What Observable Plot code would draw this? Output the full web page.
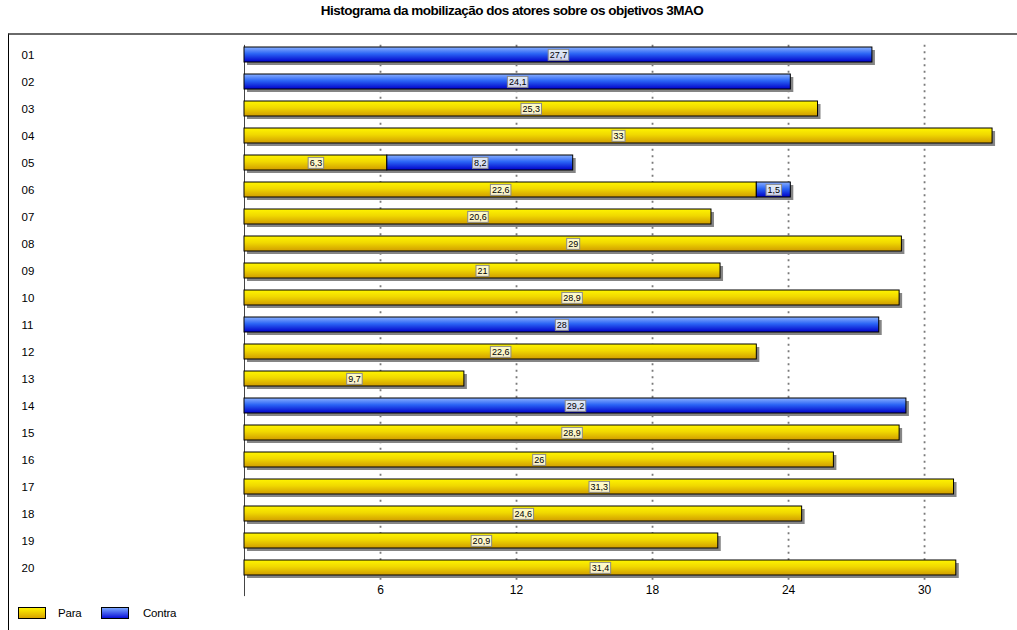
<!DOCTYPE html>
<html><head><meta charset="utf-8">
<script src="https://cdn.jsdelivr.net/npm/d3@7"></script>
<script src="https://cdn.jsdelivr.net/npm/@observablehq/plot@0.6"></script>
<style>
body{margin:0;background:#fff;width:1017px;height:630px;position:relative;overflow:hidden;font-family:"Liberation Sans",Arial,sans-serif;color:#000;}
#title{position:absolute;left:0;width:1024px;top:3px;text-align:center;font:bold 13.5px "Liberation Sans",Arial,sans-serif;letter-spacing:-0.5px;}
#frame{position:absolute;left:8px;top:33px;width:1009px;height:597px;border-top:2px solid #6a6a6a;border-left:1px solid #000;box-sizing:border-box;}
#chart{position:absolute;left:0;top:34px;}
.sw{position:absolute;top:607px;width:28px;height:12px;border:1px solid #000;box-sizing:border-box;}
.sw.para{left:18px;background:linear-gradient(#fff200,#d9a400);}
.sw.contra{left:101px;background:linear-gradient(#7aa6ff,#0a10d8);}
.lt{position:absolute;top:606px;line-height:14px;font-family:"Liberation Sans",Arial,sans-serif;font-size:11.5px;letter-spacing:-0.2px;}
</style>
</head><body>
<div id="title">Histograma da mobilização dos atores sobre os objetivos 3MAO</div>
<div id="frame"></div>
<div id="chart"></div>
<span class="sw para"></span><span class="lt" style="left:58px">Para</span>
<span class="sw contra"></span><span class="lt" style="left:143px">Contra</span>
<script>
const objetivos = ["01","02","03","04","05","06","07","08","09","10","11","12","13","14","15","16","17","18","19","20"];
const para   = [0,0,25.3,33,6.3,22.6,20.6,29,21,28.9,0,22.6,9.7,0,28.9,26,31.3,24.6,20.9,31.4];
const contra = [27.7,24.1,0,0,8.2,1.5,0,0,0,0,28,0,0,29.2,0,0,0,0,0,0];
const xTicks = [6,12,18,24,30];

const segs = [];
objetivos.forEach((o,i) => {
  if (para[i] > 0) segs.push({obj:o, serie:"Para", x1:0, x2:para[i], v:para[i]});
  if (contra[i] > 0) segs.push({obj:o, serie:"Contra", x1:para[i], x2:para[i]+contra[i], v:contra[i]});
});
const totais = objetivos.map((o,i) => ({obj:o, total: para[i]+contra[i]}));
const fmt = v => String(v).replace(".", ",");
const font = '"Liberation Sans",Arial,sans-serif';

const plot = Plot.plot({
  width: 1017, height: 566,
  marginLeft: 244, marginRight: 0, marginTop: 4.87, marginBottom: 15.9,
  x: {domain:[0,34.1], ticks: xTicks, tickSize: 0, tickPadding: 1, tickFormat: d => String(d), label: null},
  y: {domain: objetivos, padding: 0, axis: null},
  style: {fontFamily: font, fontSize: "12px", background: "transparent", color: "#000"},
  marks: [
    Plot.ruleX(xTicks, {x: d => d, stroke: "#7a7a7a", strokeWidth: 1.8, strokeDasharray: "2,4.5", insetTop: 6, insetBottom: 4}),
    Plot.ruleX([0], {stroke: "#444", strokeWidth: 1, insetTop: 6, insetBottom: -12}),
    Plot.barX(totais, {y: "obj", x1: 0, x2: "total", fill: "#858585", dx: 3, dy: 3, insetTop: 6, insetBottom: 6}),
    Plot.barX(segs.filter(d => d.serie === "Para"), {y: "obj", x1: "x1", x2: "x2", fill: "url(#gradPara)", stroke: "#000", strokeWidth: 1, insetTop: 6, insetBottom: 6}),
    Plot.barX(segs.filter(d => d.serie === "Contra"), {y: "obj", x1: "x1", x2: "x2", fill: "url(#gradContra)", stroke: "#000", strokeWidth: 1, insetTop: 6, insetBottom: 6}),
    Plot.text(objetivos, {y: d => d, text: d => d, frameAnchor: "left", textAnchor: "start", dx: -223, fontSize: 11.5}),
    Plot.text(segs, {y: "obj", x: d => (d.x1 + d.x2) / 2, text: d => fmt(d.v), fontSize: 9, letterSpacing: "-0.4px", fill: "#000"})
  ]
});

const defs = d3.select(plot).insert("defs", ":first-child");
const g1 = defs.append("linearGradient").attr("id","gradPara").attr("x1",0).attr("y1",0).attr("x2",0).attr("y2",1);
g1.append("stop").attr("offset","0%").attr("stop-color","#fff500");
g1.append("stop").attr("offset","45%").attr("stop-color","#f0d800");
g1.append("stop").attr("offset","100%").attr("stop-color","#d09c00");
const g2 = defs.append("linearGradient").attr("id","gradContra").attr("x1",0).attr("y1",0).attr("x2",0).attr("y2",1);
g2.append("stop").attr("offset","0%").attr("stop-color","#8ab0ff");
g2.append("stop").attr("offset","45%").attr("stop-color","#2a64f5");
g2.append("stop").attr("offset","100%").attr("stop-color","#0000c8");

document.getElementById("chart").appendChild(plot);

// label boxes behind the value labels
const textGroups = plot.querySelectorAll('g[aria-label="text"]');
const lg = textGroups[textGroups.length - 1];
lg.querySelectorAll("text").forEach(t => {
  const bb = t.getBBox();
  const r = document.createElementNS("http://www.w3.org/2000/svg", "rect");
  r.setAttribute("x", bb.x - 1.5);
  r.setAttribute("y", bb.y + bb.height/2 - 5.5);
  r.setAttribute("width", bb.width + 3);
  r.setAttribute("height", 11);
  r.setAttribute("fill", "#fffff4");
  r.setAttribute("fill-opacity", "0.82");
  r.setAttribute("stroke", "#8a8a8a");
  r.setAttribute("stroke-width", "1");
  const tr = t.getAttribute("transform");
  if (tr) r.setAttribute("transform", tr);
  lg.insertBefore(r, t);
});
</script>
</body></html>
